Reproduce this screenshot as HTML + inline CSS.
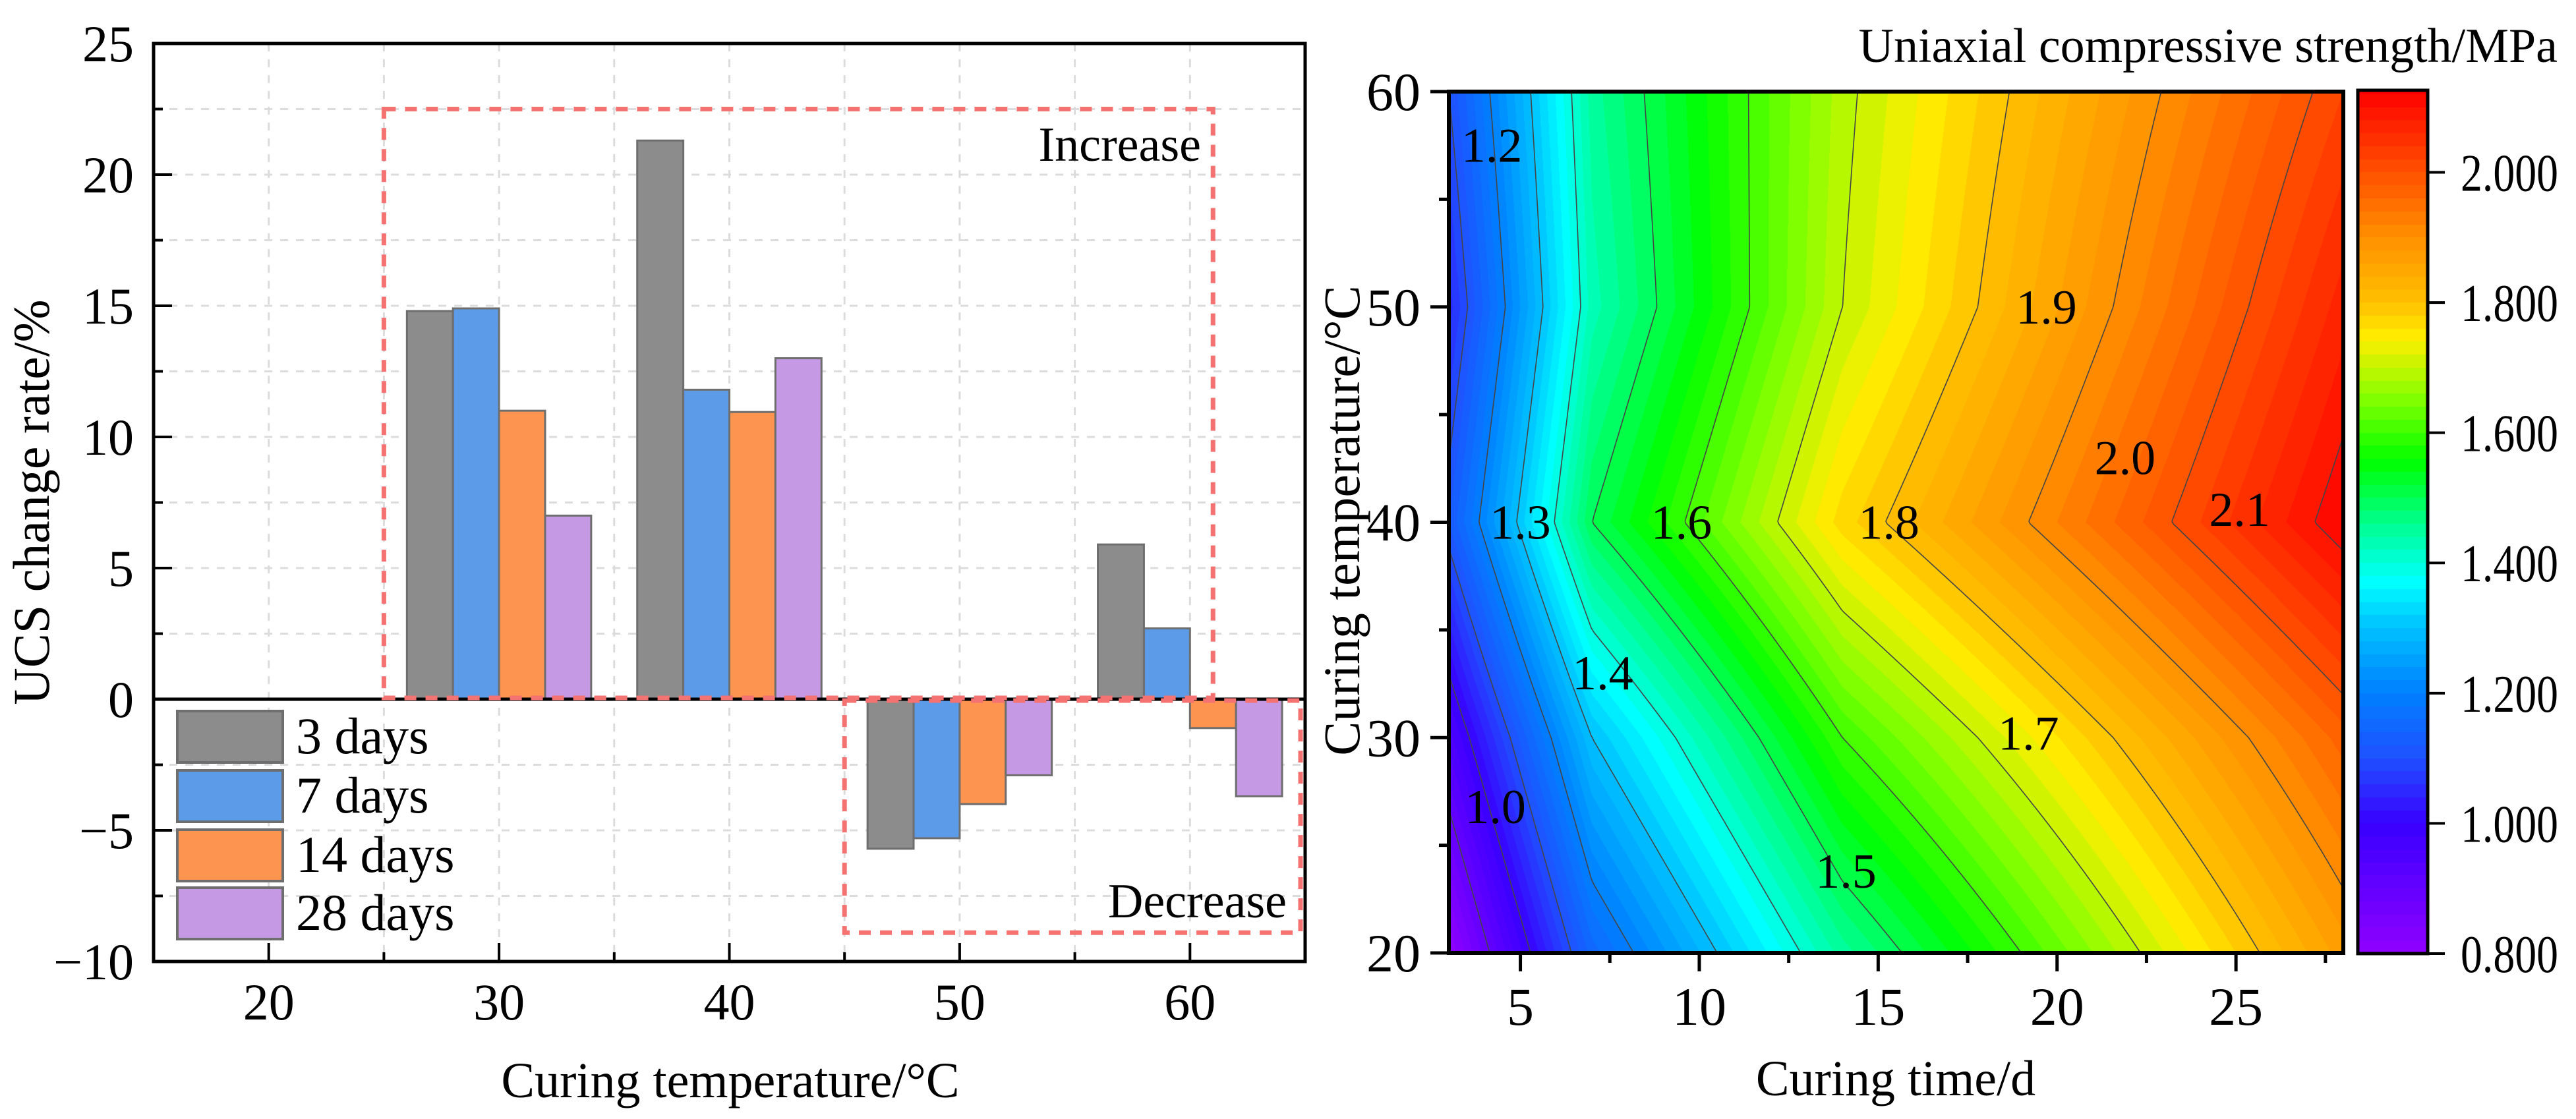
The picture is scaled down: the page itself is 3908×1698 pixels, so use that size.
<!DOCTYPE html>
<html><head><meta charset="utf-8"><style>
html,body{margin:0;padding:0;background:#fff;}
#wrap{position:relative;width:3908px;height:1698px;overflow:hidden;}
#cv{position:absolute;left:0;top:0;}
svg{position:absolute;left:0;top:0;font-family:"Liberation Serif","DejaVu Serif",serif;}
svg text{font-family:"Liberation Serif","DejaVu Serif",serif;fill:#000;}
</style></head><body>
<div id="wrap">
<canvas id="cv" width="3908" height="1698"></canvas>
<svg id="svg" width="3908" height="1698" xmlns="http://www.w3.org/2000/svg" font-family="Liberation Serif, serif"></svg>
</div>
<script>
// ---- bar chart data ----
const temps = [20, 30, 40, 50, 60];
const seriesNames = ["3 days", "7 days", "14 days", "28 days"];
const s3 = [0, 14.8, 21.3, -5.7, 5.9];
const s7 = [0, 14.9, 11.8, -5.3, 2.7];
const s14 = [0, 11.0, 10.95, -4.0, -1.1];
const s28 = [0, 7.0, 13.0, -2.9, -3.7];
const yTicksL = [-10, -5, 0, 5, 10, 15, 20, 25];
const xTicksL = [20, 30, 40, 50, 60];
// ---- contour data ----
const cTimes = [3, 7, 14, 28];
const cTemps = [20, 30, 40, 50, 60];
const ucs20 = [0.80, 1.15, 1.45, 1.87];
const ucs30 = [0.95, 1.30, 1.60, 1.97];
const ucs40 = [1.12, 1.50, 1.77, 2.12];
const ucs50 = [1.05, 1.43, 1.70, 2.07];
const ucs60 = [1.10, 1.45, 1.69, 2.02];
const cbTicks = [0.8, 1.0, 1.2, 1.4, 1.6, 1.8, 2.0];
const contourLevels = [0.9, 1.0, 1.1, 1.2, 1.3, 1.4, 1.5, 1.6, 1.7, 1.8, 1.9, 2.0, 2.1];
const contourLabels = ["1.2", "1.3", "1.6", "1.8", "1.9", "2.0", "2.1", "1.4", "1.7", "1.0", "1.5"];
const contourLabelT = [4.2, 5.0, 9.5, 15.3, 19.7, 21.9, 25.1, 7.3, 19.2, 4.3, 14.1];
const contourLabelC = [57.5, 40, 40, 40, 50, 43, 40.6, 33, 30.2, 26.8, 23.8];

const NS = "http://www.w3.org/2000/svg";
const svg = document.getElementById("svg");
const FF = '"Liberation Serif", serif';
function el(tag, attrs, parent) {
  const e = document.createElementNS(NS, tag);
  for (const k in attrs) e.setAttribute(k, attrs[k]);
  (parent || svg).appendChild(e);
  return e;
}
function txt(s, attrs, parent) { attrs["font-family"] = FF; const t = el("text", attrs, parent); t.textContent = s; return t; }

// ===== LEFT: bar chart =====
const L = {x0: 233, x1: 1980, y0: 66, y1: 1459, xmin: 15, xmax: 65, ymin: -10, ymax: 25};
const X = v => L.x0 + (v - L.xmin) * (L.x1 - L.x0) / (L.xmax - L.xmin);
const Y = v => L.y1 - (v - L.ymin) * (L.y1 - L.y0) / (L.ymax - L.ymin);
const gL = el("g", {});


for (let v = -7.5; v <= 22.5; v += 2.5) {
  const g = el("line", {x1: L.x0, x2: L.x1, y1: Y(v), y2: Y(v), stroke: "#dcdcdc", "stroke-width": 3, "stroke-dasharray": "12 12"}, gL);
  
  
}
for (let v = 20; v <= 60; v += 5) {
  const g = el("line", {x1: X(v), x2: X(v), y1: L.y0, y2: L.y1, stroke: "#dcdcdc", "stroke-width": 3, "stroke-dasharray": "12 12"}, gL);
  
  
}
const colors = ["#8c8c8c", "#5b9be8", "#fd944f", "#c699e4"];
const series = [s3, s7, s14, s28];
series.forEach((s, si) => {
  temps.forEach((t, ti) => {
    const v = s[ti];
    if (v === 0) return;
    const xa = X(t - 4 + 2 * si), xb = X(t - 2 + 2 * si);
    const r = el("rect", {x: xa, y: Math.min(Y(v), Y(0)), width: xb - xa, height: Math.abs(Y(v) - Y(0)), fill: colors[si], stroke: "#6e6e6e", "stroke-width": 3}, gL);
    
    
  });
});
const zl = el("line", {x1: L.x0, x2: L.x1, y1: Y(0), y2: Y(0), stroke: "#000", "stroke-width": 5}, gL);


const bx1 = el("rect", {x: X(25), y: Y(22.5), width: X(61) - X(25), height: Y(0.05) - Y(22.5), fill: "none", stroke: "#f47272", "stroke-width": 7, "stroke-dasharray": "18 14"}, gL);


const bx2 = el("rect", {x: X(45), y: Y(-0.05), width: X(64.8) - X(45), height: Y(-8.9) - Y(-0.05), fill: "none", stroke: "#f47272", "stroke-width": 7, "stroke-dasharray": "18 14"}, gL);


const t1 = txt("Increase", {x: 1822, y: 244, "font-size": 74, "text-anchor": "end"}, gL);


const t2 = txt("Decrease", {x: 1952, y: 1392, "font-size": 74, "text-anchor": "end"}, gL);


const fr = el("rect", {x: L.x0, y: L.y0, width: L.x1 - L.x0, height: L.y1 - L.y0, fill: "none", stroke: "#000", "stroke-width": 5}, gL);


for (let v = -10; v <= 25; v += 2.5) {
  const major = Math.abs(v % 5) < 1e-9;
  const tk = el("line", {x1: L.x0, x2: L.x0 + (major ? 28 : 14), y1: Y(v), y2: Y(v), stroke: "#000", "stroke-width": 4}, gL);
  
  
}
yTicksL.forEach(v => {
  const t = txt(v < 0 ? "\u2212" + Math.abs(v) : String(v), {x: 203, y: Y(v) + 27, "font-size": 78, "text-anchor": "end"}, gL);
  
  
});
for (let v = 20; v <= 65; v += 5) {
  const major = v % 10 === 0;
  const tk = el("line", {x1: X(v), x2: X(v), y1: L.y1, y2: L.y1 - (major ? 28 : 14), stroke: "#000", "stroke-width": 4}, gL);
  
  
}
xTicksL.forEach(v => {
  const t = txt(String(v), {x: X(v), y: 1547, "font-size": 78, "text-anchor": "middle"}, gL);
  
  
});
const xt = txt("Curing temperature/\u00B0C", {x: 1108, y: 1665, "font-size": 76, "text-anchor": "middle"}, gL);


const yt = txt("UCS change rate/%", {x: 0, y: 0, "font-size": 78, "text-anchor": "middle", transform: "translate(74,762) rotate(-90)"}, gL);


const legTops = [1079, 1169, 1259, 1347];
seriesNames.forEach((n, i) => {
  const g = el("g", {}, gL);
  
  
  el("rect", {x: 269, y: legTops[i], width: 160, height: 78, fill: colors[i], stroke: "#6e6e6e", "stroke-width": 4}, g);
  txt(n, {x: 449, y: legTops[i] + 64, "font-size": 78}, g);
});

// ===== RIGHT: contour =====
const R = {x0: 2198, x1: 3555, y0: 139, y1: 1446, xmin: 3, xmax: 28, ymin: 20, ymax: 60};
const CX = v => R.x0 + (v - R.xmin) * (R.x1 - R.x0) / (R.xmax - R.xmin);
const CY = v => R.y1 - (v - R.ymin) * (R.y1 - R.y0) / (R.ymax - R.ymin);
const grid = [ucs20, ucs30, ucs40, ucs50, ucs60];
function seg(arr, v) {
  for (let i = 0; i < arr.length - 1; i++) if (v <= arr[i + 1] || i === arr.length - 2) return [i, (v - arr[i]) / (arr[i + 1] - arr[i])];
}
function val(t, T) {
  const [i, fx] = seg(cTimes, t), [j, fy] = seg(cTemps, T);
  const a = grid[j][i], b = grid[j][i + 1], c = grid[j + 1][i], d = grid[j + 1][i + 1];
  return (a * (1 - fx) + b * fx) * (1 - fy) + (c * (1 - fx) + d * fx) * fy;
}
const stops = [[0.8,[144,0,255]],[1.0,[56,0,255]],[1.1,[32,80,255]],[1.2,[0,128,255]],[1.3,[0,192,255]],[1.37,[0,255,255]],[1.46,[0,255,144]],[1.556,[0,255,0]],[1.65,[128,255,0]],[1.745,[255,238,0]],[1.8,[255,192,0]],[1.9,[255,144,0]],[2.0,[255,80,0]],[2.126,[255,0,0]]];
function cmap(v) {
  v = Math.max(0.8, Math.min(2.126, v));
  v = 0.8 + (Math.floor((v - 0.8) / 0.02) + 0.5) * 0.02;
  for (let i = 0; i < stops.length - 1; i++) {
    if (v <= stops[i + 1][0]) {
      const f = (v - stops[i][0]) / (stops[i + 1][0] - stops[i][0]);
      return stops[i][1].map((c, k) => Math.round(c + (stops[i + 1][1][k] - c) * f));
    }
  }
  return stops[stops.length - 1][1];
}
const ctx = document.getElementById("cv").getContext("2d");
const W = R.x1 - R.x0, H = R.y1 - R.y0;
const img = ctx.createImageData(W, H);
for (let py = 0; py < H; py++) {
  const T = R.ymax - (py + 0.5) / H * (R.ymax - R.ymin);
  for (let px = 0; px < W; px++) {
    const t = R.xmin + (px + 0.5) / W * (R.xmax - R.xmin);
    const c = cmap(val(t, T));
    const o = (py * W + px) * 4;
    img.data[o] = c[0]; img.data[o + 1] = c[1]; img.data[o + 2] = c[2]; img.data[o + 3] = 255;
  }
}
ctx.putImageData(img, R.x0, R.y0);
const CB = {x0: 3577, x1: 3683, y0: 137, y1: 1447, vmin: 0.8, vmax: 2.126};
const CBY = v => CB.y1 - (v - CB.vmin) / (CB.vmax - CB.vmin) * (CB.y1 - CB.y0);
for (let py = CB.y0; py < CB.y1; py++) {
  const v = CB.vmin + (CB.y1 - py - 0.5) / (CB.y1 - CB.y0) * (CB.vmax - CB.vmin);
  const c = cmap(v);
  ctx.fillStyle = "rgb(" + c.join(",") + ")";
  ctx.fillRect(CB.x0, py, CB.x1 - CB.x0, 1);
}
const gR = el("g", {});


const step = 4;
const nx = Math.ceil(W / step), ny = Math.ceil(H / step);
const F = [];
for (let j = 0; j <= ny; j++) {
  F.push([]);
  for (let i = 0; i <= nx; i++) {
    const px = Math.min(W, i * step), py = Math.min(H, j * step);
    F[j].push(val(R.xmin + px / W * (R.xmax - R.xmin), R.ymax - py / H * (R.ymax - R.ymin)));
  }
}
contourLevels.forEach(lv => {
  let d = "";
  for (let j = 0; j < ny; j++) for (let i = 0; i < nx; i++) {
    const x0 = R.x0 + Math.min(W, i * step), x1 = R.x0 + Math.min(W, (i + 1) * step);
    const y0 = R.y0 + Math.min(H, j * step), y1 = R.y0 + Math.min(H, (j + 1) * step);
    const a = F[j][i], b = F[j][i + 1], c = F[j + 1][i + 1], e = F[j + 1][i];
    const pts = [];
    if ((a - lv) * (b - lv) < 0) pts.push([x0 + (lv - a) / (b - a) * (x1 - x0), y0]);
    if ((b - lv) * (c - lv) < 0) pts.push([x1, y0 + (lv - b) / (c - b) * (y1 - y0)]);
    if ((e - lv) * (c - lv) < 0) pts.push([x0 + (lv - e) / (c - e) * (x1 - x0), y1]);
    if ((a - lv) * (e - lv) < 0) pts.push([x0, y0 + (lv - a) / (e - a) * (y1 - y0)]);
    if (pts.length >= 2) d += "M" + pts[0][0].toFixed(1) + " " + pts[0][1].toFixed(1) + "L" + pts[1][0].toFixed(1) + " " + pts[1][1].toFixed(1);
    if (pts.length === 4) d += "M" + pts[2][0].toFixed(1) + " " + pts[2][1].toFixed(1) + "L" + pts[3][0].toFixed(1) + " " + pts[3][1].toFixed(1);
  }
  const p = el("path", {d: d, stroke: "#444", "stroke-width": 1.6, fill: "none"}, gR);
  
  
});
contourLabels.forEach((s, i) => {
  const t = txt(s, {x: CX(contourLabelT[i]), y: CY(contourLabelC[i]) + 25, "font-size": 74, "text-anchor": "middle"}, gR);
  
  
});
const fr2 = el("rect", {x: R.x0, y: R.y0, width: W, height: H, fill: "none", stroke: "#000", "stroke-width": 6}, gR);


for (let v = 20; v <= 60; v += 5) {
  const major = v % 10 === 0;
  const tk = el("line", {x1: R.x0, x2: R.x0 - (major ? 28 : 15), y1: CY(v), y2: CY(v), stroke: "#000", "stroke-width": 5}, gR);
  
  
  if (major) {
    const t = txt(String(v), {x: 2155, y: CY(v) + 28, "font-size": 82, "text-anchor": "end"}, gR);
    
    
  }
}
for (let v = 5; v <= 27.5; v += 2.5) {
  const major = v % 5 === 0;
  const tk = el("line", {x1: CX(v), x2: CX(v), y1: R.y1, y2: R.y1 + (major ? 28 : 15), stroke: "#000", "stroke-width": 5}, gR);
  
  
  if (major) {
    const t = txt(String(v), {x: CX(v), y: 1555, "font-size": 82, "text-anchor": "middle"}, gR);
    
    
  }
}
const xt2 = txt("Curing time/d", {x: 2876, y: 1662, "font-size": 76, "text-anchor": "middle"}, gR);


const yt2 = txt("Curing temperature/\u00B0C", {x: 0, y: 0, "font-size": 78, "text-anchor": "middle", transform: "translate(2062,790) rotate(-90)"}, gR);


const cbf = el("rect", {x: CB.x0, y: CB.y0, width: CB.x1 - CB.x0, height: CB.y1 - CB.y0, fill: "none", stroke: "#000", "stroke-width": 5}, gR);


cbTicks.forEach(v => {
  const tk = el("line", {x1: CB.x1, x2: CB.x1 + 26, y1: CBY(v), y2: CBY(v), stroke: "#000", "stroke-width": 4}, gR);
  
  
  const t = txt(v.toFixed(3), {x: 3733, y: CBY(v) + 28, "font-size": 80, textLength: 148, lengthAdjust: "spacingAndGlyphs"}, gR);
  
  
});
const cbt = txt("Uniaxial compressive strength/MPa", {x: 3880, y: 94, "font-size": 74, "text-anchor": "end"}, gR);


</script>
</body></html>
